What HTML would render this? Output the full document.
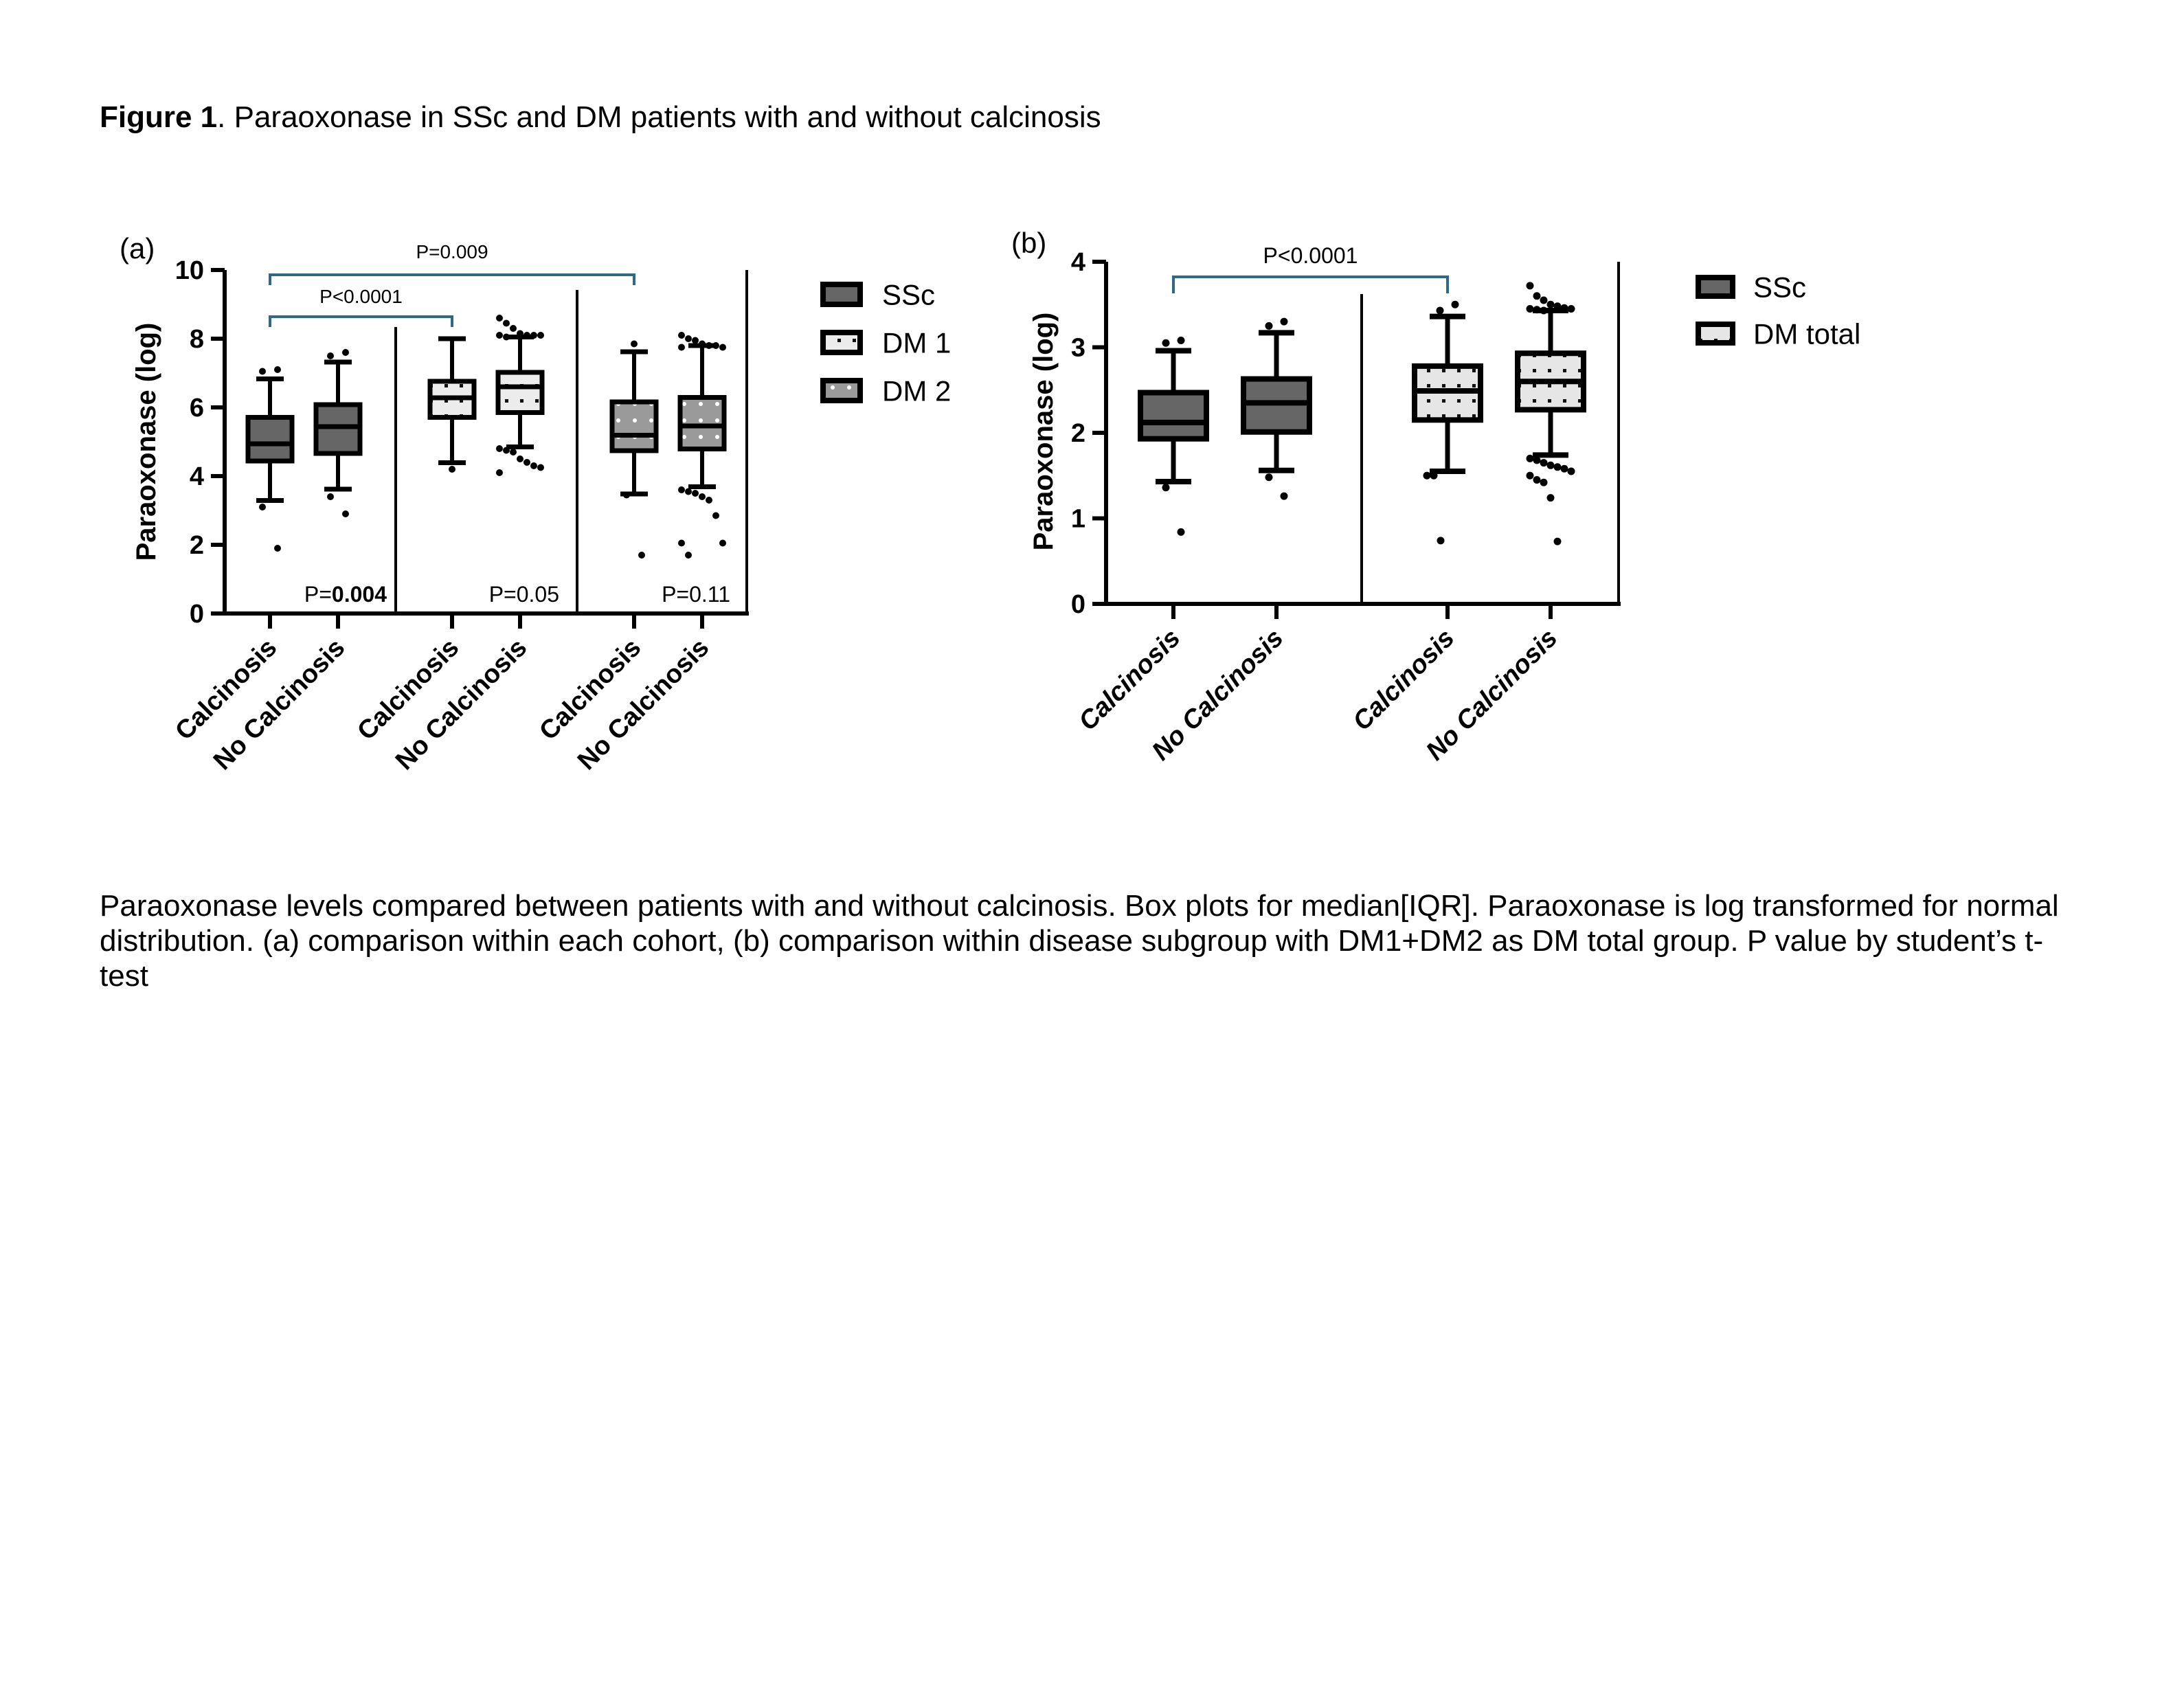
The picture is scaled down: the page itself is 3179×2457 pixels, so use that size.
<!DOCTYPE html>
<html><head><meta charset="utf-8">
<style>
html,body{margin:0;padding:0;background:#fff;}
body{width:3179px;height:2457px;position:relative;overflow:hidden;font-family:"Liberation Sans",Arial,sans-serif;}
.t{position:absolute;white-space:nowrap;color:#000;}
</style></head>
<body>
<div class="t" style="left:145px;top:146px;font-size:44px;"><b>Figure 1</b>. Paraoxonase in SSc and DM patients with and without calcinosis</div>
<div class="t" style="left:145px;top:1293px;font-size:44px;line-height:51px;">Paraoxonase levels compared between patients with and without calcinosis. Box plots for median[IQR]. Paraoxonase is log transformed for normal<br>distribution. (a) comparison within each cohort, (b) comparison within disease subgroup with DM1+DM2 as DM total group. P value by student’s t-<br>test</div>
<svg id="chart" width="3179" height="1250" style="position:absolute;left:0;top:0" xmlns="http://www.w3.org/2000/svg">
<defs>
<pattern id="pDM1" width="22" height="22" patternUnits="userSpaceOnUse"><rect width="22" height="22" fill="#ececec"/><rect x="9" y="9" width="5" height="5" fill="#111"/></pattern>
<pattern id="pDM2" width="24" height="24" patternUnits="userSpaceOnUse"><rect width="24" height="24" fill="#9a9a9a"/><circle cx="12" cy="12" r="3" fill="#fff"/></pattern>
<pattern id="pDMT" width="22" height="22" patternUnits="userSpaceOnUse"><rect width="22" height="22" fill="#e6e6e6"/><rect x="9" y="9" width="5" height="5" fill="#111"/></pattern>
</defs>
<g id="panelA"></g><g id="panelB"></g>
</svg>
<script>
// ---- Panel (a) data ----
const aCategories = ["Calcinosis","No Calcinosis","Calcinosis","No Calcinosis","Calcinosis","No Calcinosis"];
const aGroups = ["SSc","SSc","DM 1","DM 1","DM 2","DM 2"];
const aQ1 = [4.44,4.66,5.71,5.85,4.74,4.79];
const aMedian = [4.94,5.44,6.28,6.60,5.19,5.46];
const aQ3 = [5.71,6.08,6.76,7.02,6.16,6.29];
const aWhiskLow = [3.29,3.62,4.39,4.85,3.48,3.69];
const aWhiskHigh = [6.83,7.32,8.00,8.05,7.62,7.80];
const aOutliers = [
  [7.05,7.1,3.1,1.9],
  [7.5,7.6,3.4,2.9],
  [4.2],
  [8.6,8.45,8.3,8.15,8.1,8.1,8.1,8.1,8.05,4.8,4.75,4.7,4.5,4.4,4.3,4.25,4.1],
  [7.85,3.45,1.7],
  [8.1,8.0,7.95,7.85,7.8,7.8,7.75,7.75,3.6,3.55,3.5,3.4,3.3,2.85,2.05,2.05,1.7]
];
const aTicks = [0,2,4,6,8,10];
const aPvalues = ["0.004","0.05","0.11"];
// ---- Panel (b) data ----
const bCategories = ["Calcinosis","No Calcinosis","Calcinosis","No Calcinosis"];
const bGroups = ["SSc","SSc","DM total","DM total"];
const bQ1 = [1.93,2.01,2.15,2.27];
const bMedian = [2.12,2.35,2.49,2.60];
const bQ3 = [2.47,2.63,2.78,2.93];
const bWhiskLow = [1.43,1.56,1.55,1.74];
const bWhiskHigh = [2.96,3.17,3.36,3.43];
const bOutliers = [
  [3.05,3.08,1.36,0.84],
  [3.25,3.3,1.48,1.26],
  [3.43,3.5,1.5,1.5,0.74],
  [3.72,3.6,3.55,3.5,3.48,3.46,3.45,3.45,3.44,3.43,1.7,1.68,1.65,1.62,1.6,1.58,1.55,1.5,1.45,1.42,1.24,0.73]
];
const bTicks = [0,1,2,3,4];

const NS="http://www.w3.org/2000/svg";
function mk(parent,tag,attrs,text){const e=document.createElementNS(NS,tag);for(const k in attrs)e.setAttribute(k,attrs[k]);if(text!==undefined)e.textContent=text;parent.appendChild(e);return e;}
const fills={"SSc":"#666666","DM 1":"url(#pDM1)","DM 2":"url(#pDM2)","DM total":"url(#pDMT)"};

function drawPanel(g,cfg){
  const y=v=>cfg.y0-(v-cfg.vmin)/(cfg.vmax-cfg.vmin)*(cfg.y0-cfg.yTop);
  const x=i=>cfg.xs0+i*cfg.step+Math.floor(i/2)*cfg.gap;
  let e=mk(g,'line',{x1:cfg.ax,y1:y(cfg.vmax),x2:cfg.ax,y2:cfg.y0+3,stroke:'#000','stroke-width':6});
  
  
  e=mk(g,'line',{x1:cfg.ax-3,y1:cfg.y0,x2:cfg.right+3,y2:cfg.y0,stroke:'#000','stroke-width':6});
  
  
  e=mk(g,'line',{x1:cfg.right,y1:y(cfg.vmax),x2:cfg.right,y2:cfg.y0,stroke:'#000','stroke-width':4});
  
  
  cfg.dividers.forEach((d,k)=>{
    const l=mk(g,'line',{x1:d.x,y1:d.top,x2:d.x,y2:cfg.y0,stroke:'#000','stroke-width':4});
    
    
  });
  cfg.ticks.forEach(t=>{
    const l=mk(g,'line',{x1:cfg.ax-20,y1:y(t),x2:cfg.ax,y2:y(t),stroke:'#000','stroke-width':6});
    
    
    const tx=mk(g,'text',{x:cfg.ax-30,y:y(t)+13,'text-anchor':'end','font-size':cfg.tickFont,'font-weight':'bold'},String(t));
    
    
  });
  const yl=mk(g,'text',{x:0,y:0,transform:`translate(${cfg.ylx},${cfg.yly}) rotate(-90)`,'text-anchor':'middle','font-size':cfg.ylFont,'font-weight':'bold'},'Paraoxonase (log)');
  
  
  const d=cfg.data;
  d.cats.forEach((c,i)=>{
    const cx=x(i), hw=cfg.bw/2;
    const tk=mk(g,'line',{x1:cx,y1:cfg.y0,x2:cx,y2:cfg.y0+22,stroke:'#000','stroke-width':6});
    
    
    const lb=mk(g,'text',{x:0,y:0,transform:`translate(${cx+12},${cfg.y0+52}) rotate(-45)`,'text-anchor':'end','font-size':cfg.xFont,'font-weight':'bold','font-style':cfg.italic?'italic':'normal'},c);
    
    
    const w=mk(g,'line',{x1:cx,y1:y(d.wl[i]),x2:cx,y2:y(d.wh[i]),stroke:'#000','stroke-width':cfg.lw});
    
    
    [d.wl[i],d.wh[i]].forEach(v=>{
      const cp=mk(g,'line',{x1:cx-cfg.cap,y1:y(v),x2:cx+cfg.cap,y2:y(v),stroke:'#000','stroke-width':cfg.lw+1});
      
      
    });
    const b=mk(g,'rect',{x:cx-hw,y:y(d.q3[i]),width:cfg.bw,height:y(d.q1[i])-y(d.q3[i]),fill:fills[d.groups[i]],stroke:'#000','stroke-width':cfg.bs});
    
    
    const m=mk(g,'line',{x1:cx-hw,y1:y(d.med[i]),x2:cx+hw,y2:y(d.med[i]),stroke:'#000','stroke-width':cfg.bs});
    
    
    const hi=d.out[i].filter(v=>v>d.med[i]), lo=d.out[i].filter(v=>v<d.med[i]);
    [hi,lo].forEach(arr=>{
      arr.forEach((v,k)=>{
        const n=arr.length; const off=n<=2?(k-(n-1)/2)*22:((k%7)-3)*10;
        const p=mk(g,'circle',{cx:cx+off,cy:y(v),r:cfg.r,fill:'#000'});
        
        
      });
    });
  });
  return {x,y};
}
function bracket(g,x1,x2,yy,drop,label,ty,fs){
  const p=mk(g,'path',{d:`M${x1},${yy+drop} V${yy} H${x2} V${yy+drop}`,fill:'none',stroke:'#2e6a88','stroke-width':4});
  
  
  const t=mk(g,'text',{x:(x1+x2)/2,y:ty,'text-anchor':'middle','font-size':fs},label);
  
  
}
function legend(g,items,x0,ys,bw,bh,tx,fs){
  items.forEach((it,k)=>{
    const r=mk(g,'rect',{x:x0,y:ys[k],width:bw,height:bh,fill:fills[it],stroke:'#000','stroke-width':8});
    
    
    const t=mk(g,'text',{x:tx,y:ys[k]+bh/2+15,'font-size':fs},it);
    
    
  });
}
// Panel A
const gA=document.getElementById('panelA');
const A=drawPanel(gA,{vmin:0,vmax:10,y0:893,yTop:393,ax:327,right:1087,xs0:393,step:99,gap:67,bw:64,cap:20,lw:6,bs:7,r:5,
  dividers:[{x:576,top:476},{x:840,top:422}],ticks:aTicks,tickFont:38,ylx:226,yly:643,ylFont:40,xFont:38,
  data:{cats:aCategories,groups:aGroups,q1:aQ1,med:aMedian,q3:aQ3,wl:aWhiskLow,wh:aWhiskHigh,out:aOutliers}});
bracket(gA,A.x(0),A.x(4),400,15,'P=0.009',376,28);
bracket(gA,A.x(0),A.x(2),461,15,'P<0.0001',441,28);
[563,814,1063].forEach((xx,k)=>{
  const t=mk(gA,'text',{x:xx,y:876,'text-anchor':'end','font-size':32});
  
  
  mk(t,'tspan',{},'P=');
  mk(t,'tspan',{'font-weight':k===0?'bold':'normal'},aPvalues[k]);
});
let la=mk(gA,'text',{x:174,y:376,'font-size':42},'(a)');


legend(gA,["SSc","DM 1","DM 2"],1198,[414,484,554],54,29,1284,42);
// Panel B
const gB=document.getElementById('panelB');
const B=drawPanel(gB,{vmin:0,vmax:4,y0:879,yTop:381,ax:1610,right:2356,xs0:1708,step:150,gap:99,bw:96,cap:26,lw:7,bs:8,r:5.5,
  dividers:[{x:1982,top:428}],ticks:bTicks,tickFont:38,ylx:1532,yly:628,ylFont:40,xFont:38,italic:true,
  data:{cats:bCategories,groups:bGroups,q1:bQ1,med:bMedian,q3:bQ3,wl:bWhiskLow,wh:bWhiskHigh,out:bOutliers}});
bracket(gB,B.x(0),B.x(2),403,24,'P<0.0001',383,32);
let lb2=mk(gB,'text',{x:1472,y:368,'font-size':42},'(b)');


legend(gB,["SSc","DM total"],2472,[404,472],50,27,2552,42);
</script>
</body></html>
